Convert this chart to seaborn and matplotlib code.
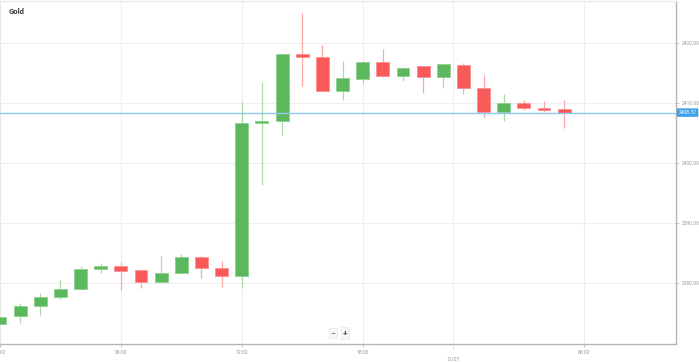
import matplotlib
matplotlib.use("Agg")
import matplotlib.pyplot as plt
import seaborn as sns
import numpy as np
import pandas as pd

# ---- data (hourly OHLC candles) ----
opens  = [2373.26, 2374.59, 2376.29, 2377.78, 2379.11, 2382.42, 2382.98, 2382.20, 2380.22, 2381.75,
          2384.40, 2382.65, 2381.21, 2406.59, 2407.04, 2418.08, 2417.68, 2411.95, 2413.99, 2416.80,
          2414.44, 2416.03, 2414.27, 2416.31, 2412.38, 2408.41, 2409.97, 2409.07, 2408.91]
highs  = [2374.60, 2376.79, 2378.34, 2380.55, 2382.86, 2383.41, 2383.64, 2382.40, 2384.52, 2384.97,
          2384.50, 2383.74, 2410.07, 2413.38, 2418.20, 2424.87, 2419.62, 2416.97, 2416.97, 2418.96,
          2415.98, 2416.10, 2416.52, 2416.64, 2414.65, 2411.46, 2410.46, 2410.23, 2410.46]
lows   = [2373.00, 2373.48, 2374.70, 2377.35, 2379.00, 2381.66, 2378.89, 2379.17, 2380.00, 2381.60,
          2380.93, 2379.44, 2379.27, 2396.27, 2404.72, 2412.83, 2411.90, 2410.46, 2413.21, 2414.30,
          2413.54, 2411.56, 2412.38, 2411.46, 2407.48, 2407.04, 2408.86, 2408.48, 2405.83]
closes = [2374.47, 2376.29, 2377.78, 2379.11, 2382.32, 2382.91, 2382.15, 2380.22, 2381.75, 2384.40,
          2382.53, 2381.16, 2406.66, 2407.04, 2418.08, 2417.63, 2412.00, 2414.04, 2416.80, 2414.44,
          2415.70, 2414.27, 2416.36, 2412.38, 2408.41, 2409.97, 2409.07, 2408.81, 2408.37]
current_price = 2408.37
y_ticks = [2380, 2390, 2400, 2410, 2420]
x_tick_pos = [0, 6, 12, 18, 29]
x_tick_labels = ["00:00", "06:00", "12:00", "18:00", "06:00"]
date_tick_pos = 22.5
date_tick_label = "12/07"
title = "Gold"

df = pd.DataFrame({"i": np.arange(len(opens)), "open": opens, "high": highs,
                   "low": lows, "close": closes})
df["up"] = df["close"] >= df["open"]
df["bottom"] = df[["open", "close"]].min(axis=1)
df["height"] = (df["close"] - df["open"]).abs().clip(lower=0.25)

sns.set_theme(style="white")
plt.rcParams["font.family"] = ["Roboto", "DejaVu Sans"]

GREEN = "#5cb85c"
RED = "#f85a5a"
GREEN_WICK = "#a9dba9"
RED_WICK = "#f9a9a9"
GRID = "#efefef"
TXT = "#9a9a9a"

fig = plt.figure(figsize=(6.99, 3.62), dpi=100)
ax = fig.add_axes([0.0, 18 / 362, 676 / 699, 1 - 18 / 362 - 1 / 362])

# grid
for y in y_ticks:
    ax.axhline(y, color=GRID, lw=0.8, zorder=0)
for x in x_tick_pos + [date_tick_pos]:
    ax.axvline(x, color=GRID, lw=0.8, zorder=0)

# wicks
for _, r in df.iterrows():
    ax.vlines(r["i"], r["low"], r["high"], color=GREEN_WICK if r["up"] else RED_WICK,
              lw=0.9, zorder=2)
# bodies
colors = [GREEN if u else RED for u in df["up"]]
edges = ["#8fd08f" if u else "#fb9090" for u in df["up"]]
ax.bar(df["i"], df["height"], bottom=df["bottom"], width=0.64, color=colors,
       edgecolor=edges, linewidth=0.6, zorder=3)

# current price line
ax.axhline(current_price, color="#8cc8f0", lw=1.0, zorder=4)

ax.set_xlim(0.237, 33.55)
ax.set_ylim(2369.95, 2426.9)

# axes styling
ax.yaxis.tick_right()
ax.set_yticks(y_ticks)
ax.set_yticklabels([f"{v:.2f}" for v in y_ticks])
ax.set_xticks(x_tick_pos)
ax.set_xticklabels(x_tick_labels)
ax.set_xticks([date_tick_pos], minor=True)
ax.set_xticklabels([date_tick_label], minor=True)
ax.tick_params(axis="x", which="major", length=2, width=0.6, color="#bbbbbb",
               labelsize=3.6, labelcolor=TXT, pad=2.5, bottom=True)
ax.tick_params(axis="x", which="minor", length=4, width=0.6, color="#dddddd",
               labelsize=3.6, labelcolor=TXT, pad=4.8, bottom=True)
ax.tick_params(axis="y", length=2, width=0.6, color="#bbbbbb", labelsize=3.6,
               labelcolor=TXT, pad=2, right=True, left=False)
for side in ["top", "left"]:
    ax.spines[side].set_color("#e8e8e8")
    ax.spines[side].set_linewidth(0.8)
for side in ["right", "bottom"]:
    ax.spines[side].set_color("#b5b5b5")
    ax.spines[side].set_linewidth(1.0)
ax.set_xlabel("")
ax.set_ylabel("")

# current price tag
ax.text(1.004, current_price, f"{current_price:.2f}", transform=ax.get_yaxis_transform(),
        ha="left", va="center", fontsize=3.6, color="white", zorder=6, clip_on=False,
        bbox=dict(boxstyle="round,pad=0.35,rounding_size=0.15", fc="#3ca0ea", ec="none"))

# title
fig.text(9 / 699, 1 - 12 / 362, title, fontsize=5.5, fontweight="bold", color="#333333",
         ha="left", va="center")

# zoom buttons
ax.text(333 / 676, 1 - 333 / 344, "−", transform=ax.transAxes, ha="center", va="center",
        fontsize=6, color="#555555", zorder=6,
        bbox=dict(boxstyle="square,pad=0.25", fc="#f7f7f7", ec="#e6e6e6", lw=0.5))
ax.text(345 / 676, 1 - 333 / 344, "+", transform=ax.transAxes, ha="center", va="center",
        fontsize=6, color="#555555", fontweight="bold", zorder=6,
        bbox=dict(boxstyle="square,pad=0.25", fc="#f7f7f7", ec="#e6e6e6", lw=0.5))

fig.savefig("out.png", dpi=100, facecolor="white")
